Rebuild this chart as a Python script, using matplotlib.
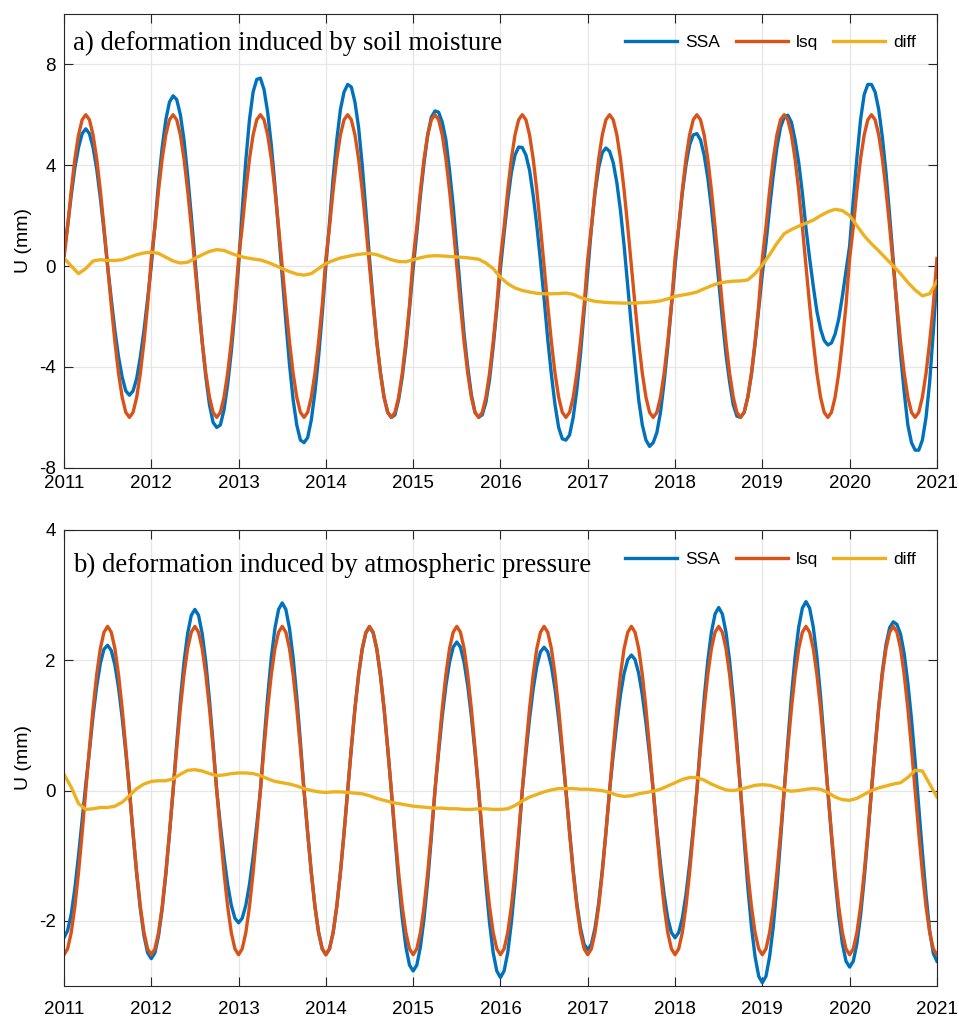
import numpy as np
import matplotlib
matplotlib.use("Agg")
import matplotlib.pyplot as plt

# half-month samples for SSA / lsq, monthly samples for diff (2011.0 .. 2021.0)
t_half = 2011 + np.arange(241) / 24.0
t_month = 2011 + np.arange(121) / 12.0

# ---- a) soil moisture ----
ssa_a = [
    0.5, 1.6, 2.8, 3.9, 4.7, 5.25, 5.44, 5.25, 4.7, 3.85, 2.7, 1.4,
    0.0, -1.3, -2.55, -3.6, -4.4, -4.95, -5.12, -4.95, -4.45, -3.6, -2.55, -1.3,
    0.0, 1.6, 3.3, 4.7, 5.8, 6.5, 6.75, 6.6, 6.0, 5.0, 3.6, 2.0,
    0.3, -1.4, -3.0, -4.4, -5.5, -6.2, -6.4, -6.3, -5.7, -4.7, -3.4, -1.8,
    0.0, 2.2, 4.2, 5.8, 6.9, 7.4, 7.45, 7.0, 6.1, 4.8, 3.2, 1.4,
    -0.4, -2.2, -3.9, -5.3, -6.3, -6.9, -7.0, -6.8, -6.1, -5.0, -3.6, -1.9,
    0.0, 1.7, 3.5, 5.0, 6.2, 6.9, 7.2, 7.1, 6.5, 5.5, 4.0, 2.2,
    0.3, -1.4, -3.0, -4.2, -5.2, -5.8, -6.0, -5.9, -5.3, -4.4, -3.2, -1.7,
    -0.1, 1.3, 2.8, 4.1, 5.2, 5.9, 6.15, 6.1, 5.7, 5.0, 3.8, 2.4,
    0.7, -1.0, -2.7, -4.0, -5.1, -5.8, -6.0, -5.9, -5.4, -4.5, -3.2, -1.7,
    -0.1, 1.3, 2.6, 3.7, 4.4, 4.72, 4.7, 4.4, 3.8, 2.8, 1.6, 0.2,
    -1.3, -2.9, -4.3, -5.5, -6.4, -6.85, -6.9, -6.7, -6.0, -4.9, -3.5, -1.8,
    -0.2, 1.5, 2.9, 3.9, 4.5, 4.68, 4.55, 4.1, 3.3, 2.2, 0.8, -0.8,
    -2.4, -3.9, -5.3, -6.3, -6.9, -7.15, -7.0, -6.6, -5.8, -4.6, -3.2, -1.6,
    0.0, 1.5, 2.9, 4.0, 4.8, 5.2, 5.25, 5.0, 4.4, 3.5, 2.3, 0.9,
    -0.6, -2.1, -3.5, -4.6, -5.5, -5.95, -6.0, -5.8, -5.2, -4.3, -3.1, -1.7,
    -0.3, 0.9, 2.3, 3.6, 4.7, 5.5, 5.9, 5.98, 5.7, 5.0, 4.1, 2.9,
    1.5, 0.3, -0.8, -1.8, -2.5, -2.95, -3.13, -3.05, -2.7, -2.1, -1.2, -0.2,
    0.8, 2.6, 4.3, 5.8, 6.8, 7.2, 7.2, 6.9, 6.2, 5.1, 3.7, 2.0,
    0.2, -1.7, -3.5, -5.0, -6.3, -7.0, -7.3, -7.3, -6.9, -6.0, -4.6, -2.6,
    -0.4,
]
lsq_a_cycle = [0.3, 1.55, 3.0, 4.25, 5.2, 5.8, 6.0, 5.8, 5.2, 4.25, 3.0, 1.55,
               0.0, -1.55, -3.0, -4.25, -5.2, -5.8, -6.0, -5.8, -5.2, -4.25, -3.0, -1.55]
lsq_a = list(np.tile(lsq_a_cycle, 10)) + [0.3]
diff_a = [
    0.32, 0.0, -0.3, -0.1, 0.2, 0.25, 0.22, 0.22, 0.25, 0.35, 0.45, 0.52,
    0.55, 0.5, 0.35, 0.2, 0.12, 0.15, 0.3, 0.45, 0.58, 0.65, 0.62, 0.5,
    0.4, 0.33, 0.28, 0.24, 0.15, 0.03, -0.1, -0.22, -0.32, -0.36, -0.3, -0.1,
    0.1, 0.22, 0.32, 0.38, 0.44, 0.48, 0.5, 0.45, 0.35, 0.25, 0.18, 0.17,
    0.25, 0.33, 0.39, 0.41, 0.4, 0.38, 0.36, 0.34, 0.31, 0.27, 0.12, -0.1,
    -0.45, -0.7, -0.87, -0.97, -1.03, -1.08, -1.1, -1.1, -1.09, -1.07, -1.12, -1.25,
    -1.33, -1.4, -1.43, -1.45, -1.46, -1.47, -1.47, -1.46, -1.44, -1.42, -1.38, -1.3,
    -1.2, -1.15, -1.1, -1.03, -0.9, -0.78, -0.68, -0.63, -0.6, -0.59, -0.55, -0.3,
    0.05, 0.45, 0.9, 1.28, 1.45, 1.58, 1.7, 1.82, 2.0, 2.15, 2.25, 2.2,
    2.0, 1.6, 1.2, 0.88, 0.6, 0.3, 0.0, -0.3, -0.65, -0.95, -1.18, -1.1,
    -0.6,
]

# ---- b) atmospheric pressure ----
ssa_b = [
    -2.26, -2.15, -1.9, -1.5, -1.0, -0.45, 0.1, 0.6, 1.15, 1.6, 1.95, 2.17,
    2.23, 2.15, 1.93, 1.58, 1.12, 0.58, 0.0, -0.67, -1.29, -1.82, -2.23, -2.49,
    -2.58, -2.49, -2.23, -1.82, -1.29, -0.67, 0.0, 0.72, 1.39, 1.97, 2.41, 2.69,
    2.78, 2.69, 2.41, 1.97, 1.39, 0.72, 0.0, -0.53, -1.02, -1.44, -1.76, -1.96,
    -2.03, -1.96, -1.76, -1.44, -1.02, -0.53, 0.0, 0.75, 1.44, 2.04, 2.49, 2.78,
    2.88, 2.78, 2.49, 2.04, 1.44, 0.75, 0.0, -0.65, -1.26, -1.78, -2.18, -2.43,
    -2.52, -2.43, -2.18, -1.78, -1.26, -0.65, 0.0, 0.65, 1.26, 1.77, 2.17, 2.42,
    2.51, 2.42, 2.17, 1.77, 1.26, 0.65, 0.0, -0.72, -1.39, -1.96, -2.4, -2.68,
    -2.77, -2.68, -2.4, -1.96, -1.39, -0.72, 0.0, 0.59, 1.14, 1.61, 1.97, 2.2,
    2.28, 2.2, 1.97, 1.61, 1.14, 0.59, 0.0, -0.74, -1.44, -2.03, -2.49, -2.77,
    -2.87, -2.77, -2.49, -2.03, -1.44, -0.74, 0.0, 0.57, 1.1, 1.56, 1.91, 2.13,
    2.2, 2.13, 1.91, 1.56, 1.1, 0.57, 0.0, -0.63, -1.22, -1.73, -2.11, -2.36,
    -2.44, -2.36, -2.11, -1.73, -1.22, -0.63, 0.0, 0.54, 1.04, 1.47, 1.8, 2.01,
    2.08, 2.01, 1.8, 1.47, 1.04, 0.54, 0.0, -0.59, -1.13, -1.6, -1.96, -2.18,
    -2.26, -2.18, -1.96, -1.6, -1.13, -0.59, 0.0, 0.73, 1.41, 1.99, 2.43, 2.71,
    2.81, 2.71, 2.43, 1.99, 1.41, 0.73, 0.0, -0.76, -1.48, -2.09, -2.55, -2.85,
    -2.95, -2.85, -2.55, -2.09, -1.48, -0.76, 0.0, 0.75, 1.45, 2.05, 2.51, 2.8,
    2.9, 2.8, 2.51, 2.05, 1.45, 0.75, 0.0, -0.7, -1.36, -1.92, -2.35, -2.62,
    -2.71, -2.62, -2.35, -1.92, -1.36, -0.7, 0.0, 0.67, 1.3, 1.83, 2.24, 2.5,
    2.59, 2.55, 2.4, 2.1, 1.65, 1.1, 0.45, -0.25, -0.95, -1.6, -2.15, -2.5,
    -2.62,
]
lsq_b_cycle = [-2.52, -2.43, -2.18, -1.78, -1.26, -0.65, 0.0, 0.65, 1.26, 1.78, 2.18, 2.43,
               2.52, 2.43, 2.18, 1.78, 1.26, 0.65, 0.0, -0.65, -1.26, -1.78, -2.18, -2.43]
lsq_b = list(np.tile(lsq_b_cycle, 10)) + [-2.52]
diff_b = [
    0.25, 0.05, -0.2, -0.29, -0.28, -0.26, -0.26, -0.24, -0.18, -0.08, 0.03, 0.1,
    0.14, 0.15, 0.15, 0.18, 0.25, 0.31, 0.32, 0.3, 0.26, 0.23, 0.24, 0.26,
    0.27, 0.27, 0.26, 0.23, 0.18, 0.14, 0.12, 0.1, 0.07, 0.03, 0.0, -0.02,
    -0.03, -0.02, -0.02, -0.03, -0.04, -0.05, -0.08, -0.12, -0.15, -0.18, -0.2, -0.22,
    -0.24, -0.25, -0.26, -0.27, -0.27, -0.28, -0.28, -0.29, -0.29, -0.28, -0.28, -0.29,
    -0.29, -0.28, -0.23, -0.16, -0.1, -0.06, -0.02, 0.01, 0.03, 0.03, 0.03, 0.02,
    0.02, 0.01, 0.0, -0.03, -0.07, -0.09, -0.08, -0.05, -0.03, -0.01, 0.02, 0.07,
    0.12, 0.17, 0.2, 0.2, 0.16, 0.1, 0.05, 0.01, 0.0, 0.02, 0.05, 0.08,
    0.09, 0.08, 0.05, 0.01, -0.01, 0.0, 0.02, 0.03, 0.02, -0.03, -0.1, -0.14,
    -0.15, -0.12, -0.06, 0.0, 0.04, 0.07, 0.1, 0.12, 0.2, 0.31, 0.3, 0.1,
    -0.1,
]

years = list(range(2011, 2022))
C_SSA = "#0072BD"
C_LSQ = "#D95319"
C_DIFF = "#EDB120"

plt.rcParams["font.family"] = ["Liberation Sans", "DejaVu Sans"]
plt.rcParams["axes.unicode_minus"] = False

fig = plt.figure(figsize=(9.59, 10.17), dpi=100)
ax1 = fig.add_axes([0.0667, 0.540, 0.9103, 0.4464])
ax2 = fig.add_axes([0.0667, 0.0305, 0.9103, 0.4484])


def style(ax, ylim, yticks, title, title_y, xpad):
    ax.set_xlim(2011, 2021)
    ax.set_ylim(*ylim)
    ax.set_xticks(years)
    ax.set_yticks(yticks)
    ax.grid(True, color="#e6e6e6", lw=0.9)
    ax.set_axisbelow(True)
    ax.tick_params(direction="in", top=True, right=True, length=6.5,
                   width=0.8, color="#262626", labelsize=13.5)
    ax.tick_params(axis="y", pad=6)
    ax.tick_params(axis="x", pad=xpad)
    for s in ax.spines.values():
        s.set_color("#262626")
        s.set_linewidth(0.8)
    ax.set_ylabel("U (mm)", fontsize=14, labelpad=5)
    ax.text(0.010, title_y, title, transform=ax.transAxes, va="center",
            ha="left", fontsize=19.3, family="Liberation Serif")
    ax.legend(loc="center right", ncol=3, frameon=False, fontsize=12.5,
              handlelength=3.0, columnspacing=0.9, handletextpad=0.45,
              bbox_to_anchor=(0.994, 0.936))


ax1.plot(t_half, ssa_a, color=C_SSA, lw=2.4, label="SSA")
ax1.plot(t_half, lsq_a, color=C_LSQ, lw=2.4, label="lsq")
ax1.plot(t_month, diff_a, color=C_DIFF, lw=2.4, label="diff")
style(ax1, (-8, 10), [-8, -4, 0, 4, 8],
      "a) deformation induced by soil moisture", 0.935, 5)

ax2.plot(t_half, ssa_b, color=C_SSA, lw=2.4, label="SSA")
ax2.plot(t_half, lsq_b, color=C_LSQ, lw=2.4, label="lsq")
ax2.plot(t_month, diff_b, color=C_DIFF, lw=2.4, label="diff")
style(ax2, (-3, 4), [-2, 0, 2, 4],
      "b) deformation induced by atmospheric pressure", 0.922, 11)

fig.savefig("out.png", dpi=100)
